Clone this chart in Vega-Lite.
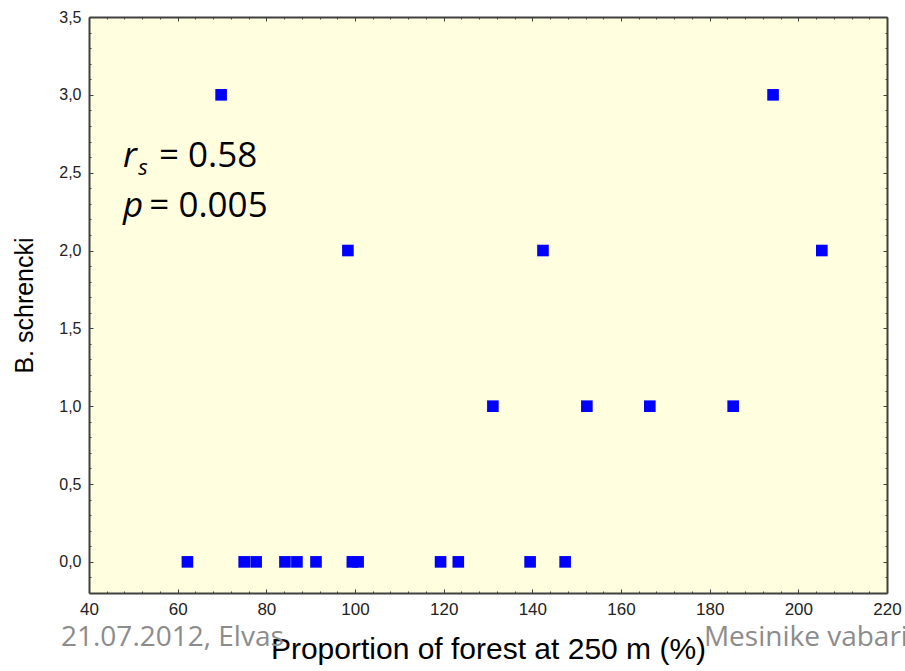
{
  "$schema": "https://vega.github.io/schema/vega-lite/v6.json",
  "autosize": {"type": "none"},
  "width": 798,
  "height": 576,
  "padding": {"left": 89, "top": 17, "right": 18, "bottom": 78},
  "background": "white",
  "view": {"fill": "#FFFFDF", "stroke": null},
  "config": {
    "font": "Liberation Sans",
    "axis": {"labelFont": "Liberation Sans", "titleFont": "Liberation Sans", "titleFontWeight": "normal", "domainColor": "#404040", "domainWidth": 2, "tickColor": "#404040", "labelColor": "#222222", "grid": false, "labelOverlap": false, "labelBound": false, "labelFlush": false}
  },
  "data": {"values": [
    {"forest": 62.2, "schrencki": 0},
    {"forest": 75.0, "schrencki": 0},
    {"forest": 77.7, "schrencki": 0},
    {"forest": 84.2, "schrencki": 0},
    {"forest": 86.9, "schrencki": 0},
    {"forest": 91.2, "schrencki": 0},
    {"forest": 99.4, "schrencki": 0},
    {"forest": 100.7, "schrencki": 0},
    {"forest": 119.3, "schrencki": 0},
    {"forest": 123.3, "schrencki": 0},
    {"forest": 139.5, "schrencki": 0},
    {"forest": 147.4, "schrencki": 0},
    {"forest": 131.1, "schrencki": 1},
    {"forest": 152.3, "schrencki": 1},
    {"forest": 166.5, "schrencki": 1},
    {"forest": 185.3, "schrencki": 1},
    {"forest": 98.4, "schrencki": 2},
    {"forest": 142.4, "schrencki": 2},
    {"forest": 205.3, "schrencki": 2},
    {"forest": 69.8, "schrencki": 3},
    {"forest": 194.3, "schrencki": 3}
  ]},
  "resolve": {"axis": {"x": "independent", "y": "independent"}},
  "layer": [
    {
      "mark": {"type": "point", "opacity": 0},
      "encoding": {
        "x": {"field": "forest", "type": "quantitative",
          "axis": {"orient": "bottom", "title": null, "labels": false, "domain": false, "tickSize": -2,
            "values": [44,48,52,56,64,68,72,76,84,88,92,96,104,108,112,116,124,128,132,136,144,148,152,156,164,168,172,176,184,188,192,196,204,208,212,216]}},
        "y": {"field": "schrencki", "type": "quantitative",
          "axis": {"orient": "left", "title": null, "labels": false, "domain": false, "tickSize": -2,
            "values": [-0.1,0.1,0.2,0.3,0.4,0.6,0.7,0.8,0.9,1.1,1.2,1.3,1.4,1.6,1.7,1.8,1.9,2.1,2.2,2.3,2.4,2.6,2.7,2.8,2.9,3.1,3.2,3.3,3.4]}}
      }
    },
    {
      "mark": {"type": "point", "opacity": 0},
      "encoding": {
        "x": {"field": "forest", "type": "quantitative",
          "axis": {"orient": "top", "title": null, "labels": false,
            "values": [40,44,48,52,56,60,64,68,72,76,80,84,88,92,96,100,104,108,112,116,120,124,128,132,136,140,144,148,152,156,160,164,168,172,176,180,184,188,192,196,200,204,208,212,216,220],
            "tickSize": {"condition": {"test": "datum.value % 20 === 0", "value": -4}, "value": -2}}},
        "y": {"field": "schrencki", "type": "quantitative",
          "axis": {"orient": "right", "title": null, "labels": false,
            "values": [-0.1,0,0.1,0.2,0.3,0.4,0.5,0.6,0.7,0.8,0.9,1,1.1,1.2,1.3,1.4,1.5,1.6,1.7,1.8,1.9,2,2.1,2.2,2.3,2.4,2.5,2.6,2.7,2.8,2.9,3,3.1,3.2,3.3,3.4,3.5],
            "tickSize": {"condition": {"test": "abs(datum.value*2 - round(datum.value*2)) < 0.001", "value": -4}, "value": -2}}}
      }
    },
    {
      "mark": {"type": "point", "shape": "square", "filled": true, "color": "#0000FF", "opacity": 1, "size": 135},
      "encoding": {
        "x": {"field": "forest", "type": "quantitative", "scale": {"domain": [40, 220], "nice": false, "zero": false},
          "axis": {"orient": "bottom", "title": "Proportion of forest at 250 m (%)", "titleFontSize": 30, "titleColor": "#000000", "titlePadding": 17,
            "values": [40,60,80,100,120,140,160,180,200,220],
            "tickSize": -4,
            "labelFontSize": 17, "labelPadding": 12}},
        "y": {"field": "schrencki", "type": "quantitative", "scale": {"domain": [-0.2, 3.5], "nice": false, "zero": false},
          "axis": {"orient": "left", "title": "B. schrencki", "titleFontSize": 25, "titleColor": "#000000", "titlePadding": 21,
            "values": [0,0.5,1,1.5,2,2.5,3,3.5],
            "tickSize": -4,
            "labelExpr": "replace(format(datum.value, '.1f'), '.', ',')",
            "labelFontSize": 16, "labelPadding": 12}}
      }
    },
    {
      "data": {"values": [{}]},
      "mark": {"type": "text", "text": "r", "font": "Open Sans", "fontStyle": "italic", "fontSize": 35, "align": "left", "baseline": "alphabetic", "color": "#000000"},
      "encoding": {"x": {"datum": 47.67, "type": "quantitative", "axis": null}, "y": {"datum": 2.537, "type": "quantitative", "axis": null}}
    },
    {
      "data": {"values": [{}]},
      "mark": {"type": "text", "text": "s", "font": "Open Sans", "fontStyle": "italic", "fontSize": 22, "align": "left", "baseline": "alphabetic", "color": "#000000"},
      "encoding": {"x": {"datum": 51.1, "type": "quantitative", "axis": null}, "y": {"datum": 2.486, "type": "quantitative", "axis": null}}
    },
    {
      "data": {"values": [{}]},
      "mark": {"type": "text", "text": "= 0.58", "font": "Open Sans", "fontSize": 35, "align": "left", "baseline": "alphabetic", "color": "#000000"},
      "encoding": {"x": {"datum": 55.79, "type": "quantitative", "axis": null}, "y": {"datum": 2.537, "type": "quantitative", "axis": null}}
    },
    {
      "data": {"values": [{}]},
      "mark": {"type": "text", "text": "p", "font": "Open Sans", "fontStyle": "italic", "fontSize": 35, "align": "left", "baseline": "alphabetic", "color": "#000000"},
      "encoding": {"x": {"datum": 47.67, "type": "quantitative", "axis": null}, "y": {"datum": 2.216, "type": "quantitative", "axis": null}}
    },
    {
      "data": {"values": [{}]},
      "mark": {"type": "text", "text": "= 0.005", "font": "Open Sans", "fontSize": 35, "align": "left", "baseline": "alphabetic", "color": "#000000"},
      "encoding": {"x": {"datum": 53.6, "type": "quantitative", "axis": null}, "y": {"datum": 2.216, "type": "quantitative", "axis": null}}
    },
    {
      "data": {"values": [{}]},
      "mark": {"type": "text", "text": "21.07.2012, Elvas", "font": "Open Sans", "fontSize": 28, "align": "left", "baseline": "alphabetic", "color": "#8C8C8C"},
      "encoding": {"x": {"datum": 33.68, "type": "quantitative", "axis": null}, "y": {"datum": -0.539, "type": "quantitative", "axis": null}}
    },
    {
      "data": {"values": [{}]},
      "mark": {"type": "text", "text": "Mesinike vabariigis", "font": "Open Sans", "fontSize": 28, "align": "left", "baseline": "alphabetic", "color": "#8C8C8C"},
      "encoding": {"x": {"datum": 178.7, "type": "quantitative", "axis": null}, "y": {"datum": -0.539, "type": "quantitative", "axis": null}}
    }
  ]
}
